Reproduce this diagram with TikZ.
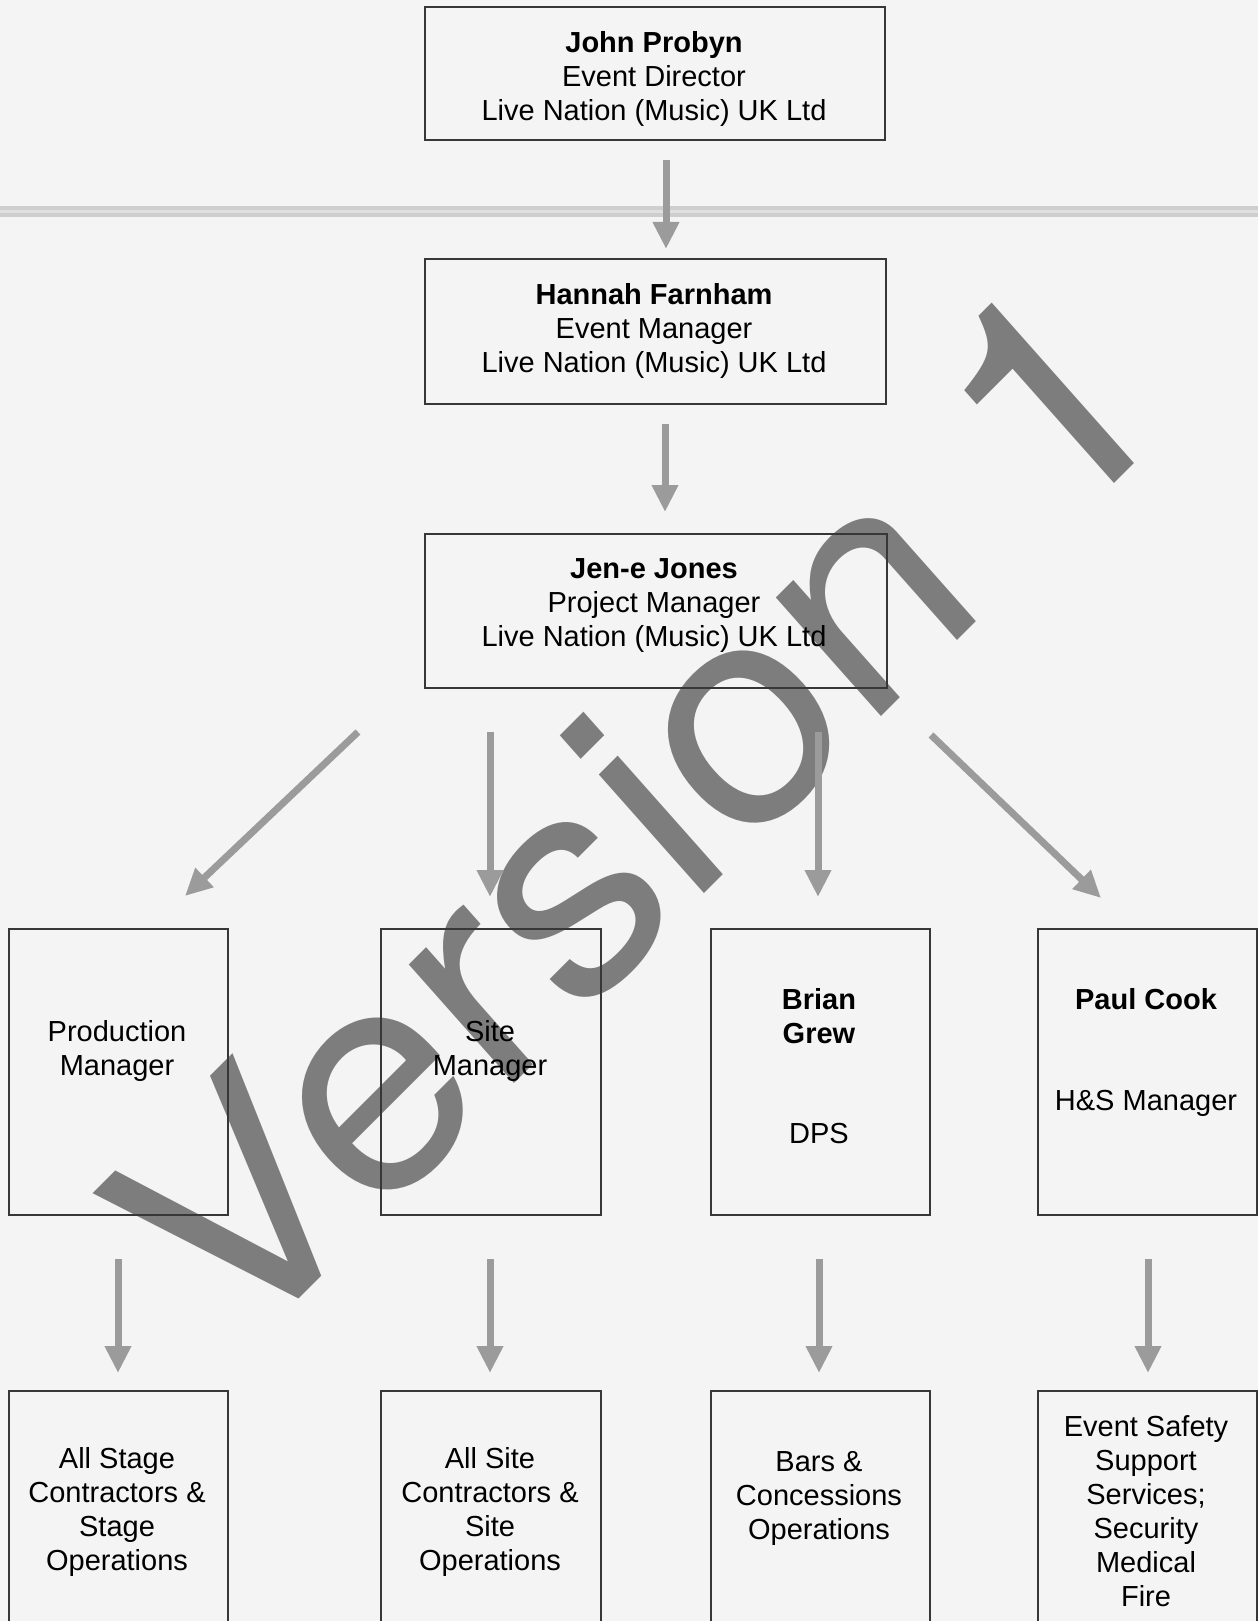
\documentclass[tikz,border=0pt]{standalone}
\usepackage{fontspec}
\setmainfont{Liberation Sans}
\newfontfamily\wmfont{TeX Gyre Heros}
\usetikzlibrary{arrows.meta}
\definecolor{bgc}{RGB}{244,244,244}
\definecolor{arrowc}{RGB}{155,155,155}
\definecolor{boxc}{RGB}{55,55,55}
\definecolor{wmc}{RGB}{125,125,125}
\definecolor{bandc}{RGB}{206,206,206}
\definecolor{bandin}{RGB}{224,224,224}
\begin{document}
\begin{tikzpicture}[x=1pt,y=-1pt,
  box/.style={draw=boxc,line width=1.6pt,rectangle,inner sep=0pt,anchor=north west},
  txt/.style={align=center,inner sep=0pt,text=black,font=\fontsize{29}{34}\selectfont},
  arr/.style={draw=arrowc,line width=7pt,-{Triangle[width=25pt,length=27pt]}},
  wm/.style={inner sep=0pt,text=wmc,font=\wmfont\fontsize{302}{302}\selectfont}]
\clip (0,0) rectangle (1258,1621);
\fill[bgc] (0,0) rectangle (1258,1621);
% scanned page band
\draw[bandc,line width=11pt] (0,212) -- (1258,212);
\draw[bandin,line width=3pt] (0,212) -- (1258,212);
% watermark
\node[wm,rotate=45,xslant=0.06,xscale=1.066,anchor=base west] (wmark) at (232,1366) {Version 1};
% boxes
\node[box,minimum width=460pt,minimum height=133pt] (b1) at (424,6) {};
\node[box,minimum width=461pt,minimum height=145pt] (b2) at (424,258) {};
\node[box,minimum width=462pt,minimum height=154pt] (b3) at (424,533) {};
\node[box,minimum width=219pt,minimum height=286pt] (r1) at (8,928) {};
\node[box,minimum width=220pt,minimum height=286pt] (r2) at (380,928) {};
\node[box,minimum width=219pt,minimum height=286pt] (r3) at (710,928) {};
\node[box,minimum width=219pt,minimum height=286pt] (r4) at (1037,928) {};
\node[box,minimum width=219pt,minimum height=260pt] (s1) at (8,1390) {};
\node[box,minimum width=220pt,minimum height=260pt] (s2) at (380,1390) {};
\node[box,minimum width=219pt,minimum height=260pt] (s3) at (710,1390) {};
\node[box,minimum width=219pt,minimum height=260pt] (s4) at (1037,1390) {};
% texts
\node[txt] (t1) at (654,79) {\textbf{John Probyn}\\Event Director\\Live Nation (Music) UK Ltd};
\node[txt] (t2) at (654,331) {\textbf{Hannah Farnham}\\Event Manager\\Live Nation (Music) UK Ltd};
\node[txt] (t3) at (654,606) {\textbf{Jen-e Jones}\\Project Manager\\Live Nation (Music) UK Ltd};
\node[txt] (tr1) at (117,1051) {Production\\Manager};
\node[txt] (tr2) at (490,1051) {Site\\Manager};
\node[txt] (tr3a) at (819,1016) {\textbf{Brian}\\\textbf{Grew}};
\node[txt] (tr3b) at (819,1134) {DPS};
\node[txt] (tr4a) at (1146,999) {\textbf{Paul Cook}};
\node[txt] (tr4b) at (1146,1103) {H\&S Manager};
\node[txt] (ts1) at (117,1512) {All Stage\\Contractors \&\\Stage\\Operations};
\node[txt] (ts2) at (490,1512) {All Site\\Contractors \&\\Site\\Operations};
\node[txt] (ts3) at (819,1498) {Bars \&\\Concessions\\Operations};
\node[txt] (ts4) at (1146,1511) {Event Safety\\Support\\Services;\\Security\\Medical\\Fire};
% arrow end points
\coordinate (a1s) at (666,160); \coordinate (a1e) at (666,249);
\coordinate (a2s) at (665,424); \coordinate (a2e) at (665,512);
\coordinate (d1s) at (358,732); \coordinate (d1e) at (185,896);
\coordinate (d2s) at (490,732); \coordinate (d2e) at (490,897);
\coordinate (d3s) at (818,732); \coordinate (d3e) at (818,897);
\coordinate (d4s) at (931,735); \coordinate (d4e) at (1101,898);
\coordinate (e1s) at (118,1259); \coordinate (e1e) at (118,1373);
\coordinate (e2s) at (490,1259); \coordinate (e2e) at (490,1373);
\coordinate (e3s) at (819,1259); \coordinate (e3e) at (819,1373);
\coordinate (e4s) at (1148,1259); \coordinate (e4e) at (1148,1373);
\foreach \s/\e in {a1s/a1e,a2s/a2e,d1s/d1e,d2s/d2e,d3s/d3e,d4s/d4e,e1s/e1e,e2s/e2e,e3s/e3e,e4s/e4e}
  \draw[arr] (\s) -- (\e);
\end{tikzpicture}
\end{document}
